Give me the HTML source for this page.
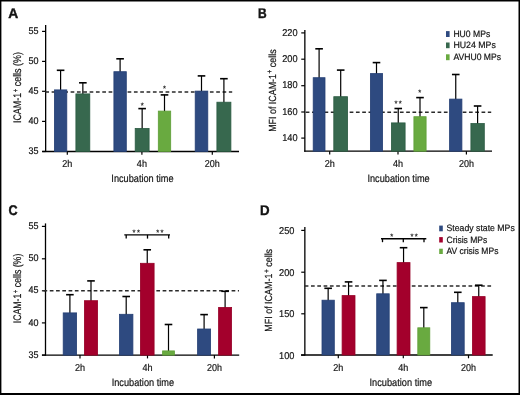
<!DOCTYPE html>
<html><head><meta charset="utf-8"><style>
html,body{margin:0;padding:0;background:#fff;overflow:hidden;}
svg{display:block;}
text{font-family:"Liberation Sans",sans-serif;fill:#141414;text-rendering:geometricPrecision;}
.t{filter:grayscale(1);}
</style></head><body>
<svg width="520" height="395" viewBox="0 0 520 395">
<rect x="0" y="0" width="520" height="395" fill="#fff"/>
<line x1="45.65" y1="25" x2="45.65" y2="152.1" stroke="#000" stroke-width="1.3"/>
<line x1="42.05" y1="31.4" x2="45.65" y2="31.4" stroke="#000" stroke-width="1.2"/>
<line x1="42.05" y1="61.4" x2="45.65" y2="61.4" stroke="#000" stroke-width="1.2"/>
<line x1="42.05" y1="91.3" x2="45.65" y2="91.3" stroke="#000" stroke-width="1.2"/>
<line x1="42.05" y1="121.4" x2="45.65" y2="121.4" stroke="#000" stroke-width="1.2"/>
<line x1="42.05" y1="151.5" x2="45.65" y2="151.5" stroke="#000" stroke-width="1.2"/>
<line x1="42.2" y1="151.5" x2="239" y2="151.5" stroke="#000" stroke-width="1.3"/>
<line x1="67.3" y1="151.5" x2="67.3" y2="154.8" stroke="#000" stroke-width="1.2"/>
<line x1="141.9" y1="151.5" x2="141.9" y2="154.8" stroke="#000" stroke-width="1.2"/>
<line x1="212.3" y1="151.5" x2="212.3" y2="154.8" stroke="#000" stroke-width="1.2"/>
<line x1="45.3" y1="92.0" x2="232.2" y2="92.0" stroke="#2a2a2a" stroke-width="1.5" stroke-dasharray="3.7,2.63"/>
<line x1="60.6" y1="70.3" x2="60.6" y2="90.5" stroke="#000" stroke-width="1.2"/>
<line x1="56.800000000000004" y1="70.3" x2="64.4" y2="70.3" stroke="#000" stroke-width="1.6"/>
<line x1="82.85" y1="82.8" x2="82.85" y2="94.5" stroke="#000" stroke-width="1.2"/>
<line x1="79.05" y1="82.8" x2="86.64999999999999" y2="82.8" stroke="#000" stroke-width="1.6"/>
<line x1="120.1" y1="58.8" x2="120.1" y2="72.3" stroke="#000" stroke-width="1.2"/>
<line x1="116.3" y1="58.8" x2="123.89999999999999" y2="58.8" stroke="#000" stroke-width="1.6"/>
<line x1="142.15" y1="108.6" x2="142.15" y2="129" stroke="#000" stroke-width="1.2"/>
<line x1="138.35" y1="108.6" x2="145.95000000000002" y2="108.6" stroke="#000" stroke-width="1.6"/>
<line x1="164.5" y1="94.9" x2="164.5" y2="111.7" stroke="#000" stroke-width="1.2"/>
<line x1="160.7" y1="94.9" x2="168.3" y2="94.9" stroke="#000" stroke-width="1.6"/>
<line x1="201.5" y1="75.9" x2="201.5" y2="91.7" stroke="#000" stroke-width="1.2"/>
<line x1="197.7" y1="75.9" x2="205.3" y2="75.9" stroke="#000" stroke-width="1.6"/>
<line x1="223.9" y1="78.7" x2="223.9" y2="102.8" stroke="#000" stroke-width="1.2"/>
<line x1="220.1" y1="78.7" x2="227.70000000000002" y2="78.7" stroke="#000" stroke-width="1.6"/>
<rect x="54.40" y="89.90" width="12.40" height="61.60" fill="#2e4a80" stroke="#243f74" stroke-width="0.8"/>
<rect x="75.90" y="93.90" width="13.90" height="57.60" fill="#37684e" stroke="#2b5b42" stroke-width="0.8"/>
<rect x="113.90" y="71.70" width="12.40" height="79.80" fill="#2e4a80" stroke="#243f74" stroke-width="0.8"/>
<rect x="135.20" y="128.40" width="13.90" height="23.10" fill="#37684e" stroke="#2b5b42" stroke-width="0.8"/>
<rect x="158.30" y="111.10" width="12.40" height="40.40" fill="#69aa40" stroke="#5f9f37" stroke-width="0.8"/>
<rect x="195.20" y="91.10" width="12.60" height="60.40" fill="#2e4a80" stroke="#243f74" stroke-width="0.8"/>
<rect x="216.90" y="102.20" width="14.00" height="49.30" fill="#37684e" stroke="#2b5b42" stroke-width="0.8"/>
<line x1="304.85" y1="30" x2="304.85" y2="151.79999999999998" stroke="#000" stroke-width="1.3"/>
<line x1="301.25" y1="32.9" x2="304.85" y2="32.9" stroke="#000" stroke-width="1.2"/>
<line x1="301.25" y1="59.2" x2="304.85" y2="59.2" stroke="#000" stroke-width="1.2"/>
<line x1="301.25" y1="85.7" x2="304.85" y2="85.7" stroke="#000" stroke-width="1.2"/>
<line x1="301.25" y1="112.0" x2="304.85" y2="112.0" stroke="#000" stroke-width="1.2"/>
<line x1="301.25" y1="138.1" x2="304.85" y2="138.1" stroke="#000" stroke-width="1.2"/>
<line x1="304.2" y1="151.2" x2="492" y2="151.2" stroke="#000" stroke-width="1.3"/>
<line x1="329.7" y1="151.2" x2="329.7" y2="154.5" stroke="#000" stroke-width="1.2"/>
<line x1="398" y1="151.2" x2="398" y2="154.5" stroke="#000" stroke-width="1.2"/>
<line x1="466.4" y1="151.2" x2="466.4" y2="154.5" stroke="#000" stroke-width="1.2"/>
<line x1="305.7" y1="112.2" x2="491.2" y2="112.2" stroke="#2a2a2a" stroke-width="1.5" stroke-dasharray="3.7,2.58"/>
<line x1="319.1" y1="48.8" x2="319.1" y2="78.3" stroke="#000" stroke-width="1.2"/>
<line x1="315.3" y1="48.8" x2="322.90000000000003" y2="48.8" stroke="#000" stroke-width="1.6"/>
<line x1="340.7" y1="70.1" x2="340.7" y2="97.3" stroke="#000" stroke-width="1.2"/>
<line x1="336.9" y1="70.1" x2="344.5" y2="70.1" stroke="#000" stroke-width="1.6"/>
<line x1="376.5" y1="62.6" x2="376.5" y2="74.2" stroke="#000" stroke-width="1.2"/>
<line x1="372.7" y1="62.6" x2="380.3" y2="62.6" stroke="#000" stroke-width="1.6"/>
<line x1="398.25" y1="108.5" x2="398.25" y2="123.5" stroke="#000" stroke-width="1.2"/>
<line x1="394.45" y1="108.5" x2="402.05" y2="108.5" stroke="#000" stroke-width="1.6"/>
<line x1="420.0" y1="97.6" x2="420.0" y2="117.3" stroke="#000" stroke-width="1.2"/>
<line x1="416.2" y1="97.6" x2="423.8" y2="97.6" stroke="#000" stroke-width="1.6"/>
<line x1="455.75" y1="74.5" x2="455.75" y2="99.7" stroke="#000" stroke-width="1.2"/>
<line x1="451.95" y1="74.5" x2="459.55" y2="74.5" stroke="#000" stroke-width="1.6"/>
<line x1="477.6" y1="106" x2="477.6" y2="124.1" stroke="#000" stroke-width="1.2"/>
<line x1="473.8" y1="106" x2="481.40000000000003" y2="106" stroke="#000" stroke-width="1.6"/>
<rect x="313.20" y="77.70" width="11.80" height="73.50" fill="#2e4a80" stroke="#243f74" stroke-width="0.8"/>
<rect x="333.80" y="96.70" width="13.80" height="54.50" fill="#37684e" stroke="#2b5b42" stroke-width="0.8"/>
<rect x="370.40" y="73.60" width="12.20" height="77.60" fill="#2e4a80" stroke="#243f74" stroke-width="0.8"/>
<rect x="391.40" y="122.90" width="13.70" height="28.30" fill="#37684e" stroke="#2b5b42" stroke-width="0.8"/>
<rect x="413.90" y="116.70" width="12.20" height="34.50" fill="#69aa40" stroke="#5f9f37" stroke-width="0.8"/>
<rect x="449.60" y="99.10" width="12.30" height="52.10" fill="#2e4a80" stroke="#243f74" stroke-width="0.8"/>
<rect x="470.90" y="123.50" width="13.40" height="27.70" fill="#37684e" stroke="#2b5b42" stroke-width="0.8"/>
<rect x="446" y="31.1" width="3.6" height="5.899999999999999" fill="#2e4a80"/>
<rect x="446" y="42.5" width="3.6" height="5.700000000000003" fill="#37684e"/>
<rect x="446" y="54.3" width="3.6" height="5.900000000000006" fill="#69aa40"/>
<line x1="45.5" y1="223.4" x2="45.5" y2="355.70000000000005" stroke="#000" stroke-width="1.3"/>
<line x1="41.9" y1="226.4" x2="45.5" y2="226.4" stroke="#000" stroke-width="1.2"/>
<line x1="41.9" y1="258.8" x2="45.5" y2="258.8" stroke="#000" stroke-width="1.2"/>
<line x1="41.9" y1="290.8" x2="45.5" y2="290.8" stroke="#000" stroke-width="1.2"/>
<line x1="41.9" y1="322.9" x2="45.5" y2="322.9" stroke="#000" stroke-width="1.2"/>
<line x1="41.9" y1="355.1" x2="45.5" y2="355.1" stroke="#000" stroke-width="1.2"/>
<line x1="42" y1="355.1" x2="239.2" y2="355.1" stroke="#000" stroke-width="1.3"/>
<line x1="80" y1="355.1" x2="80" y2="358.40000000000003" stroke="#000" stroke-width="1.2"/>
<line x1="147.5" y1="355.1" x2="147.5" y2="358.40000000000003" stroke="#000" stroke-width="1.2"/>
<line x1="214.4" y1="355.1" x2="214.4" y2="358.40000000000003" stroke="#000" stroke-width="1.2"/>
<line x1="43.5" y1="290.8" x2="239" y2="290.8" stroke="#2a2a2a" stroke-width="1.5" stroke-dasharray="3.7,2.57"/>
<line x1="69.9" y1="294.7" x2="69.9" y2="313.5" stroke="#000" stroke-width="1.2"/>
<line x1="66.10000000000001" y1="294.7" x2="73.7" y2="294.7" stroke="#000" stroke-width="1.6"/>
<line x1="91.0" y1="280.9" x2="91.0" y2="301.3" stroke="#000" stroke-width="1.2"/>
<line x1="87.2" y1="280.9" x2="94.8" y2="280.9" stroke="#000" stroke-width="1.6"/>
<line x1="126.2" y1="296.5" x2="126.2" y2="314.9" stroke="#000" stroke-width="1.2"/>
<line x1="122.4" y1="296.5" x2="130.0" y2="296.5" stroke="#000" stroke-width="1.6"/>
<line x1="147.25" y1="249.8" x2="147.25" y2="263.9" stroke="#000" stroke-width="1.2"/>
<line x1="143.45" y1="249.8" x2="151.05" y2="249.8" stroke="#000" stroke-width="1.6"/>
<line x1="168.5" y1="324.5" x2="168.5" y2="351.5" stroke="#000" stroke-width="1.2"/>
<line x1="164.7" y1="324.5" x2="172.3" y2="324.5" stroke="#000" stroke-width="1.6"/>
<line x1="204.1" y1="314.6" x2="204.1" y2="329.6" stroke="#000" stroke-width="1.2"/>
<line x1="200.29999999999998" y1="314.6" x2="207.9" y2="314.6" stroke="#000" stroke-width="1.6"/>
<line x1="225.1" y1="291.3" x2="225.1" y2="308" stroke="#000" stroke-width="1.2"/>
<line x1="221.29999999999998" y1="291.3" x2="228.9" y2="291.3" stroke="#000" stroke-width="1.6"/>
<rect x="63.20" y="312.90" width="13.40" height="42.20" fill="#2e4a80" stroke="#243f74" stroke-width="0.8"/>
<rect x="84.40" y="300.70" width="13.20" height="54.40" fill="#a3002c" stroke="#960027" stroke-width="0.8"/>
<rect x="119.50" y="314.30" width="13.40" height="40.80" fill="#2e4a80" stroke="#243f74" stroke-width="0.8"/>
<rect x="140.40" y="263.30" width="13.70" height="91.80" fill="#a3002c" stroke="#960027" stroke-width="0.8"/>
<rect x="162.60" y="350.90" width="11.80" height="4.20" fill="#69aa40" stroke="#5f9f37" stroke-width="0.8"/>
<rect x="197.60" y="329.00" width="13.00" height="26.10" fill="#2e4a80" stroke="#243f74" stroke-width="0.8"/>
<rect x="218.60" y="307.40" width="13.00" height="47.70" fill="#a3002c" stroke="#960027" stroke-width="0.8"/>
<line x1="124.3" y1="234.9" x2="170" y2="234.9" stroke="#000" stroke-width="1.4"/>
<line x1="126.2" y1="234.9" x2="126.2" y2="238.6" stroke="#000" stroke-width="1.3"/>
<line x1="147.5" y1="234.9" x2="147.5" y2="238.6" stroke="#000" stroke-width="1.3"/>
<line x1="168.7" y1="234.9" x2="168.7" y2="238.6" stroke="#000" stroke-width="1.3"/>
<line x1="304.85" y1="227" x2="304.85" y2="355.6" stroke="#000" stroke-width="1.3"/>
<line x1="301.25" y1="230.4" x2="304.85" y2="230.4" stroke="#000" stroke-width="1.2"/>
<line x1="301.25" y1="272.2" x2="304.85" y2="272.2" stroke="#000" stroke-width="1.2"/>
<line x1="301.25" y1="313.8" x2="304.85" y2="313.8" stroke="#000" stroke-width="1.2"/>
<line x1="301.25" y1="355.1" x2="304.85" y2="355.1" stroke="#000" stroke-width="1.2"/>
<line x1="301" y1="355" x2="492.7" y2="355" stroke="#000" stroke-width="1.3"/>
<line x1="338.3" y1="355" x2="338.3" y2="358.3" stroke="#000" stroke-width="1.2"/>
<line x1="403.3" y1="355" x2="403.3" y2="358.3" stroke="#000" stroke-width="1.2"/>
<line x1="468.5" y1="355" x2="468.5" y2="358.3" stroke="#000" stroke-width="1.2"/>
<line x1="304.7" y1="285.9" x2="491.2" y2="285.9" stroke="#2a2a2a" stroke-width="1.5" stroke-dasharray="3.7,2.60"/>
<line x1="328.15" y1="288.3" x2="328.15" y2="300.8" stroke="#000" stroke-width="1.2"/>
<line x1="324.34999999999997" y1="288.3" x2="331.95" y2="288.3" stroke="#000" stroke-width="1.6"/>
<line x1="348.54999999999995" y1="281.9" x2="348.54999999999995" y2="296.2" stroke="#000" stroke-width="1.2"/>
<line x1="344.74999999999994" y1="281.9" x2="352.34999999999997" y2="281.9" stroke="#000" stroke-width="1.6"/>
<line x1="382.95000000000005" y1="280.4" x2="382.95000000000005" y2="294.4" stroke="#000" stroke-width="1.2"/>
<line x1="379.15000000000003" y1="280.4" x2="386.75000000000006" y2="280.4" stroke="#000" stroke-width="1.6"/>
<line x1="403.54999999999995" y1="247.7" x2="403.54999999999995" y2="263.2" stroke="#000" stroke-width="1.2"/>
<line x1="399.74999999999994" y1="247.7" x2="407.34999999999997" y2="247.7" stroke="#000" stroke-width="1.6"/>
<line x1="423.79999999999995" y1="307.6" x2="423.79999999999995" y2="328.4" stroke="#000" stroke-width="1.2"/>
<line x1="419.99999999999994" y1="307.6" x2="427.59999999999997" y2="307.6" stroke="#000" stroke-width="1.6"/>
<line x1="457.8" y1="292.3" x2="457.8" y2="303.3" stroke="#000" stroke-width="1.2"/>
<line x1="454.0" y1="292.3" x2="461.6" y2="292.3" stroke="#000" stroke-width="1.6"/>
<line x1="478.75" y1="285.2" x2="478.75" y2="297.2" stroke="#000" stroke-width="1.2"/>
<line x1="474.95" y1="285.2" x2="482.55" y2="285.2" stroke="#000" stroke-width="1.6"/>
<rect x="322.00" y="300.20" width="12.30" height="54.80" fill="#2e4a80" stroke="#243f74" stroke-width="0.8"/>
<rect x="342.10" y="295.60" width="12.90" height="59.40" fill="#a3002c" stroke="#960027" stroke-width="0.8"/>
<rect x="376.70" y="293.80" width="12.50" height="61.20" fill="#2e4a80" stroke="#243f74" stroke-width="0.8"/>
<rect x="397.10" y="262.60" width="12.90" height="92.40" fill="#a3002c" stroke="#960027" stroke-width="0.8"/>
<rect x="417.80" y="327.80" width="12.00" height="27.20" fill="#69aa40" stroke="#5f9f37" stroke-width="0.8"/>
<rect x="451.40" y="302.70" width="12.80" height="52.30" fill="#2e4a80" stroke="#243f74" stroke-width="0.8"/>
<rect x="472.40" y="296.60" width="12.70" height="58.40" fill="#a3002c" stroke="#960027" stroke-width="0.8"/>
<line x1="381" y1="238.7" x2="426.3" y2="238.7" stroke="#000" stroke-width="1.4"/>
<line x1="382.5" y1="238.7" x2="382.5" y2="242.2" stroke="#000" stroke-width="1.3"/>
<line x1="403.3" y1="238.7" x2="403.3" y2="242.2" stroke="#000" stroke-width="1.3"/>
<line x1="424" y1="238.7" x2="424" y2="242.2" stroke="#000" stroke-width="1.3"/>
<rect x="439.2" y="225.6" width="3.6" height="5.700000000000017" fill="#2e4a80"/>
<rect x="439.2" y="237.1" width="3.6" height="5.400000000000006" fill="#a3002c"/>
<rect x="439.2" y="248.7" width="3.6" height="5.300000000000011" fill="#69aa40"/>
<g class="t">
<text x="8.3" y="17.9" font-size="14" text-anchor="start" textLength="10" lengthAdjust="spacingAndGlyphs" font-weight="bold" stroke="#141414" stroke-width="0.4">A</text>
<text x="38.5" y="34.0" font-size="9.7" text-anchor="end" textLength="10.0" lengthAdjust="spacingAndGlyphs" stroke="#141414" stroke-width="0.2">55</text>
<text x="38.5" y="64.0" font-size="9.7" text-anchor="end" textLength="10.0" lengthAdjust="spacingAndGlyphs" stroke="#141414" stroke-width="0.2">50</text>
<text x="38.5" y="93.89999999999999" font-size="9.7" text-anchor="end" textLength="10.0" lengthAdjust="spacingAndGlyphs" stroke="#141414" stroke-width="0.2">45</text>
<text x="38.5" y="124.0" font-size="9.7" text-anchor="end" textLength="10.0" lengthAdjust="spacingAndGlyphs" stroke="#141414" stroke-width="0.2">40</text>
<text x="38.5" y="154.1" font-size="9.7" text-anchor="end" textLength="10.0" lengthAdjust="spacingAndGlyphs" stroke="#141414" stroke-width="0.2">35</text>
<text x="67.3" y="167.3" font-size="10" text-anchor="middle" textLength="10.1" lengthAdjust="spacingAndGlyphs" stroke="#141414" stroke-width="0.2">2h</text>
<text x="141.9" y="167.3" font-size="10" text-anchor="middle" textLength="10.1" lengthAdjust="spacingAndGlyphs" stroke="#141414" stroke-width="0.2">4h</text>
<text x="212.3" y="167.3" font-size="10" text-anchor="middle" textLength="15" lengthAdjust="spacingAndGlyphs" stroke="#141414" stroke-width="0.2">20h</text>
<text x="142.5" y="182.3" font-size="10.6" text-anchor="middle" textLength="62.3" lengthAdjust="spacingAndGlyphs" stroke="#141414" stroke-width="0.2">Incubation time</text>
<text transform="translate(21.4,87.6) rotate(-90)" x="0" y="0" font-size="11" text-anchor="middle" textLength="71" lengthAdjust="spacingAndGlyphs" stroke="#141414" stroke-width="0.2">ICAM-1<tspan dx="0.6" dy="-3.6" font-size="7.6">+</tspan><tspan dy="3.6"> cells (%)</tspan></text>
<text x="142.3" y="108.1" font-size="7.6" text-anchor="middle" stroke="#141414" stroke-width="0.2">*</text>
<text x="164.5" y="91.1" font-size="7.6" text-anchor="middle" stroke="#141414" stroke-width="0.2">*</text>
<text x="258" y="18.2" font-size="14" text-anchor="start" textLength="8.7" lengthAdjust="spacingAndGlyphs" font-weight="bold" stroke="#141414" stroke-width="0.4">B</text>
<text x="297.6" y="35.5" font-size="9.9" text-anchor="end" textLength="15.4" lengthAdjust="spacingAndGlyphs" stroke="#141414" stroke-width="0.2">220</text>
<text x="297.6" y="61.800000000000004" font-size="9.9" text-anchor="end" textLength="15.4" lengthAdjust="spacingAndGlyphs" stroke="#141414" stroke-width="0.2">200</text>
<text x="297.6" y="88.3" font-size="9.9" text-anchor="end" textLength="15.4" lengthAdjust="spacingAndGlyphs" stroke="#141414" stroke-width="0.2">180</text>
<text x="297.6" y="114.6" font-size="9.9" text-anchor="end" textLength="15.4" lengthAdjust="spacingAndGlyphs" stroke="#141414" stroke-width="0.2">160</text>
<text x="297.6" y="140.7" font-size="9.9" text-anchor="end" textLength="15.4" lengthAdjust="spacingAndGlyphs" stroke="#141414" stroke-width="0.2">140</text>
<text x="329.7" y="167.3" font-size="10" text-anchor="middle" textLength="10.1" lengthAdjust="spacingAndGlyphs" stroke="#141414" stroke-width="0.2">2h</text>
<text x="398" y="167.3" font-size="10" text-anchor="middle" textLength="10.1" lengthAdjust="spacingAndGlyphs" stroke="#141414" stroke-width="0.2">4h</text>
<text x="466.4" y="167.3" font-size="10" text-anchor="middle" textLength="15" lengthAdjust="spacingAndGlyphs" stroke="#141414" stroke-width="0.2">20h</text>
<text x="398.6" y="182.3" font-size="10.6" text-anchor="middle" textLength="62.3" lengthAdjust="spacingAndGlyphs" stroke="#141414" stroke-width="0.2">Incubation time</text>
<text transform="translate(275.6,90.6) rotate(-90)" x="0" y="0" font-size="10.3" text-anchor="middle" textLength="82.5" lengthAdjust="spacingAndGlyphs" stroke="#141414" stroke-width="0.2">MFI of ICAM-1<tspan dx="0.6" dy="-3.6" font-size="7.6">+</tspan><tspan dy="3.6"> cells</tspan></text>
<text x="396.1" y="105.9" font-size="7.6" text-anchor="middle" stroke="#141414" stroke-width="0.2">*</text>
<text x="400.3" y="105.9" font-size="7.6" text-anchor="middle" stroke="#141414" stroke-width="0.2">*</text>
<text x="419.8" y="95.3" font-size="7.6" text-anchor="middle" stroke="#141414" stroke-width="0.2">*</text>
<text x="453.4" y="37" font-size="9.2" text-anchor="start" textLength="36.8" lengthAdjust="spacingAndGlyphs" stroke="#141414" stroke-width="0.2">HU0 MPs</text>
<text x="453.4" y="48.2" font-size="9.2" text-anchor="start" textLength="42.4" lengthAdjust="spacingAndGlyphs" stroke="#141414" stroke-width="0.2">HU24 MPs</text>
<text x="453.4" y="60.2" font-size="9.2" text-anchor="start" textLength="47.6" lengthAdjust="spacingAndGlyphs" stroke="#141414" stroke-width="0.2">AVHU0 MPs</text>
<text x="8.5" y="214.6" font-size="14" text-anchor="start" textLength="9.1" lengthAdjust="spacingAndGlyphs" font-weight="bold" stroke="#141414" stroke-width="0.4">C</text>
<text x="38.6" y="229.0" font-size="9.7" text-anchor="end" textLength="10.0" lengthAdjust="spacingAndGlyphs" stroke="#141414" stroke-width="0.2">55</text>
<text x="38.6" y="261.40000000000003" font-size="9.7" text-anchor="end" textLength="10.0" lengthAdjust="spacingAndGlyphs" stroke="#141414" stroke-width="0.2">50</text>
<text x="38.6" y="293.40000000000003" font-size="9.7" text-anchor="end" textLength="10.0" lengthAdjust="spacingAndGlyphs" stroke="#141414" stroke-width="0.2">45</text>
<text x="38.6" y="325.5" font-size="9.7" text-anchor="end" textLength="10.0" lengthAdjust="spacingAndGlyphs" stroke="#141414" stroke-width="0.2">40</text>
<text x="38.6" y="357.70000000000005" font-size="9.7" text-anchor="end" textLength="10.0" lengthAdjust="spacingAndGlyphs" stroke="#141414" stroke-width="0.2">35</text>
<text x="80" y="371.1" font-size="10" text-anchor="middle" textLength="10.1" lengthAdjust="spacingAndGlyphs" stroke="#141414" stroke-width="0.2">2h</text>
<text x="147.5" y="371.1" font-size="10" text-anchor="middle" textLength="10.1" lengthAdjust="spacingAndGlyphs" stroke="#141414" stroke-width="0.2">4h</text>
<text x="214.4" y="371.1" font-size="10" text-anchor="middle" textLength="15" lengthAdjust="spacingAndGlyphs" stroke="#141414" stroke-width="0.2">20h</text>
<text x="142.9" y="386.3" font-size="10.6" text-anchor="middle" textLength="62.5" lengthAdjust="spacingAndGlyphs" stroke="#141414" stroke-width="0.2">Incubation time</text>
<text transform="translate(21.4,288.5) rotate(-90)" x="0" y="0" font-size="11" text-anchor="middle" textLength="69.6" lengthAdjust="spacingAndGlyphs" stroke="#141414" stroke-width="0.2">ICAM-1<tspan dx="0.6" dy="-3.6" font-size="7.6">+</tspan><tspan dy="3.6"> cells (%)</tspan></text>
<text x="134.0" y="235.2" font-size="7.6" text-anchor="middle" stroke="#141414" stroke-width="0.2">*</text>
<text x="138.4" y="235.2" font-size="7.6" text-anchor="middle" stroke="#141414" stroke-width="0.2">*</text>
<text x="157.75" y="235.2" font-size="7.6" text-anchor="middle" stroke="#141414" stroke-width="0.2">*</text>
<text x="162.05" y="235.2" font-size="7.6" text-anchor="middle" stroke="#141414" stroke-width="0.2">*</text>
<text x="260" y="214.6" font-size="14" text-anchor="start" textLength="9.6" lengthAdjust="spacingAndGlyphs" font-weight="bold" stroke="#141414" stroke-width="0.4">D</text>
<text x="294.5" y="234.0" font-size="9.9" text-anchor="end" textLength="15.4" lengthAdjust="spacingAndGlyphs" stroke="#141414" stroke-width="0.2">250</text>
<text x="294.5" y="275.8" font-size="9.9" text-anchor="end" textLength="15.4" lengthAdjust="spacingAndGlyphs" stroke="#141414" stroke-width="0.2">200</text>
<text x="294.5" y="317.40000000000003" font-size="9.9" text-anchor="end" textLength="15.4" lengthAdjust="spacingAndGlyphs" stroke="#141414" stroke-width="0.2">150</text>
<text x="294.5" y="358.70000000000005" font-size="9.9" text-anchor="end" textLength="15.4" lengthAdjust="spacingAndGlyphs" stroke="#141414" stroke-width="0.2">100</text>
<text x="338.3" y="370.6" font-size="10" text-anchor="middle" textLength="10.1" lengthAdjust="spacingAndGlyphs" stroke="#141414" stroke-width="0.2">2h</text>
<text x="403.3" y="370.6" font-size="10" text-anchor="middle" textLength="10.1" lengthAdjust="spacingAndGlyphs" stroke="#141414" stroke-width="0.2">4h</text>
<text x="468.5" y="370.6" font-size="10" text-anchor="middle" textLength="15" lengthAdjust="spacingAndGlyphs" stroke="#141414" stroke-width="0.2">20h</text>
<text x="400.8" y="386.4" font-size="10.6" text-anchor="middle" textLength="62.6" lengthAdjust="spacingAndGlyphs" stroke="#141414" stroke-width="0.2">Incubation time</text>
<text transform="translate(272.4,290.3) rotate(-90)" x="0" y="0" font-size="10.3" text-anchor="middle" textLength="82.8" lengthAdjust="spacingAndGlyphs" stroke="#141414" stroke-width="0.2">MFI of ICAM-1<tspan dx="0.6" dy="-3.6" font-size="7.6">+</tspan><tspan dy="3.6"> cells</tspan></text>
<text x="391.7" y="238.6" font-size="7.6" text-anchor="middle" stroke="#141414" stroke-width="0.2">*</text>
<text x="412.0" y="238.6" font-size="7.6" text-anchor="middle" stroke="#141414" stroke-width="0.2">*</text>
<text x="416.2" y="238.6" font-size="7.6" text-anchor="middle" stroke="#141414" stroke-width="0.2">*</text>
<text x="446.5" y="231.3" font-size="9.2" text-anchor="start" textLength="68.3" lengthAdjust="spacingAndGlyphs" stroke="#141414" stroke-width="0.2">Steady state MPs</text>
<text x="446.5" y="242.5" font-size="9.2" text-anchor="start" textLength="40.8" lengthAdjust="spacingAndGlyphs" stroke="#141414" stroke-width="0.2">Crisis MPs</text>
<text x="446.5" y="254" font-size="9.2" text-anchor="start" textLength="51.9" lengthAdjust="spacingAndGlyphs" stroke="#141414" stroke-width="0.2">AV crisis MPs</text>
</g>
<path d="M0 0H520V395H0Z M1.4 1.4V392.9H518.5V1.4Z" fill="#000" fill-rule="evenodd"/>
</svg>
</body></html>
